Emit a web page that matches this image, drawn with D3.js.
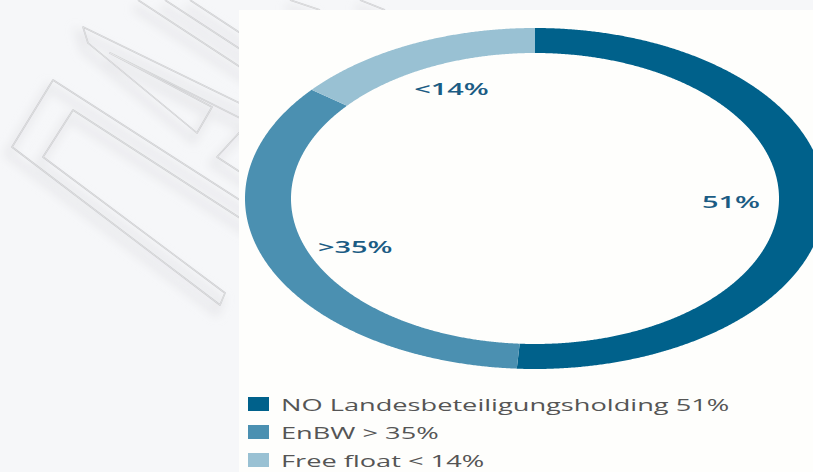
<!DOCTYPE html>
<html>
<head>
<meta charset="utf-8">
<script src="https://cdn.jsdelivr.net/npm/d3@7"></script>
<style>
  html, body { margin: 0; padding: 0; background: #f6f7f9; }
  svg { display: block; }
</style>
</head>
<body>
<svg id="chart" width="813" height="472"></svg>
<script>
// ---- data ----
const shareholders = ["NO Landesbeteiligungsholding", "EnBW", "Free float"];
const shares = [51, 35, 14];
const sliceLabels = ["51%", ">35%", "<14%"];
const legendLabels = ["NO Landesbeteiligungsholding 51%", "EnBW > 35%", "Free float < 14%"];
const colors = ["#00618b", "#4b90b1", "#99c1d3"];

// ---- layout ----
const W = 813, H = 472;
const SX = 1.7;              // horizontal stretch of the original picture
const SXL = 1.6;             // stretch for legend text
const cx = 535, cy = 198.5;
const RXo = 290, RYo = 170.5, RXi = 244, RYi = 145.5;
const RXl = 196, RYl = 121;

const svg = d3.select("#chart");

// background
svg.append("rect").attr("width", W).attr("height", H).attr("fill", "#f6f7f9");

// watermark (decorative outline logo on the left)
const wm = [
  [[260,213],[53,80],[12,147],[220,305],[225,293],[43,157],[73,110],[260,231]],
  [[260,113],[83,27],[88,43],[197,133],[212,107],[110,53],[260,128]],
  [[260,110],[217,157],[260,185]],
  [[138,0],[260,80]],
  [[165,0],[260,62]],
  [[190,0],[260,46]],
  [[290,0],[320,10]],
  [[360,0],[385,10]]
];
const defs = svg.append("defs");
defs.append("filter").attr("id", "blur").attr("x", "-20%").attr("y", "-20%")
  .attr("width", "140%").attr("height", "140%")
  .append("feGaussianBlur").attr("stdDeviation", 5);
const line = d3.line();
const gw = svg.append("g");
gw.append("g").attr("filter", "url(#blur)").attr("transform", "translate(-4,7)")
  .selectAll("path").data(wm).join("path")
  .attr("d", line).attr("fill", "none").attr("stroke", "#dfe0e3").attr("stroke-width", 7).attr("opacity", 0.6);
gw.append("g").selectAll("path").data(wm).join("path")
  .attr("d", line).attr("fill", "none").attr("stroke", "#c8c9cc").attr("stroke-width", 1.6)
  .attr("stroke-linejoin", "round");
gw.append("g").selectAll("path").data(wm).join("path")
  .attr("d", line).attr("fill", "none").attr("stroke", "#f4f4f4").attr("stroke-width", 0.5)
  .attr("stroke-linejoin", "round");

// white panel
svg.append("rect").attr("x", 239).attr("y", 10).attr("width", W - 239).attr("height", H - 10)
  .attr("fill", "#fefefc");

// ---- donut ----
const pie = d3.pie().sort(null).value(d => d);
const arcs = pie(shares);

function ringPath(a0, a1) {
  const p = d3.path();
  const n = Math.max(2, Math.ceil((a1 - a0) / 0.005));
  for (let i = 0; i <= n; i++) {
    const a = a0 + (a1 - a0) * i / n;
    const x = cx + RXo * Math.sin(a), y = cy - RYo * Math.cos(a);
    if (i === 0) p.moveTo(x, y); else p.lineTo(x, y);
  }
  for (let i = n; i >= 0; i--) {
    const a = a0 + (a1 - a0) * i / n;
    p.lineTo(cx + RXi * Math.sin(a), cy - RYi * Math.cos(a));
  }
  p.closePath();
  return p.toString();
}

svg.append("g").selectAll("path").data(arcs).join("path")
  .attr("d", d => ringPath(d.startAngle, d.endAngle))
  .attr("fill", (d, i) => colors[i]);

// slice labels
svg.append("g").selectAll("text").data(arcs).join("text")
  .attr("transform", d => {
    const a = (d.startAngle + d.endAngle) / 2;
    return `translate(${cx + RXl * Math.sin(a)},${cy - RYl * Math.cos(a)}) scale(${SX},1)`;
  })
  .attr("text-anchor", "middle")
  .attr("dy", "0.36em")
  .attr("font-family", "'Open Sans', sans-serif")
  .attr("font-weight", 600)
  .attr("font-size", 17)
  .attr("fill", "#1b5c84")
  .text((d, i) => sliceLabels[i]);

// ---- legend ----
const leg = svg.append("g").selectAll("g").data(legendLabels).join("g")
  .attr("transform", (d, i) => `translate(248,${397 + i * 28})`);
leg.append("rect").attr("width", 21).attr("height", 14).attr("fill", (d, i) => colors[i]);
leg.append("text")
  .attr("transform", `translate(33,13.5) scale(${SXL},1)`)
  .attr("font-family", "'Open Sans', sans-serif")
  .attr("font-size", 17)
  .attr("fill", "#555555")
  .text(d => d);
</script>
</body>
</html>
